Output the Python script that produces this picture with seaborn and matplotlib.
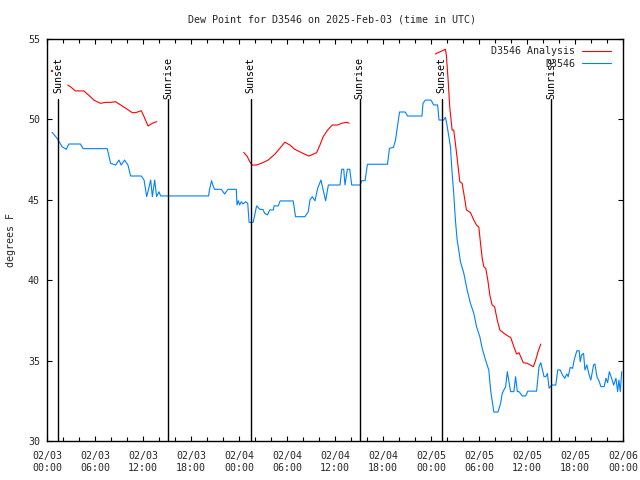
import numpy as np
import pandas as pd
import matplotlib
matplotlib.use("Agg")
import matplotlib.pyplot as plt
import matplotlib.dates as mdates
import seaborn as sns

# ---------------- data (hours after 2025-02-03 00:00 UTC, degrees F) -------------
obs_hours = [0.63, 1.25, 1.88, 2.42, 2.72, 4.18, 4.52, 7.53, 7.95, 8.57, 9.0, 9.28, 9.7, 10.12,
             10.45, 11.79, 12.13, 12.46, 12.67, 12.96, 13.17, 13.46, 13.7, 14.0, 14.2, 20.2,
             20.3, 20.57, 20.74, 20.95, 21.79, 22.2, 22.62, 23.66, 23.75, 23.92, 24.08, 24.29,
             24.5, 24.84, 25.09, 25.26, 25.76, 25.97, 26.2, 26.6, 27.0, 27.2, 27.56, 27.85,
             28.3, 28.38, 28.9, 29.14, 30.77, 31.07, 32.24, 32.66, 32.87, 33.16, 33.5, 33.83,
             34.24, 34.53, 34.83, 35.17, 36.63, 36.84, 37.09, 37.25, 37.54, 37.84, 38.09,
             39.14, 39.35, 39.76, 40.05, 42.56, 42.81, 43.31, 43.57, 43.74, 44.07, 44.78,
             45.07, 46.87, 47.0, 47.3, 48.0, 48.33, 48.83, 49.0, 49.58, 49.8, 50.0, 50.43,
             50.64, 50.84, 51.05, 51.27, 51.47, 51.68, 52.1, 52.52, 52.93, 53.35, 53.69,
             54.1, 54.4, 54.82, 55.23, 55.45, 55.66, 55.86, 56.37, 56.7, 56.9, 57.33, 57.54,
             57.75, 57.95, 58.36, 58.57, 58.79, 59.0, 59.42, 59.83, 60.1, 61.2, 61.5, 61.72,
             61.93, 62.13, 62.35, 62.55, 62.76, 63.1, 63.6, 63.84, 64.15, 64.44, 64.72,
             64.98, 65.15, 65.4, 65.7, 65.9, 66.23, 66.52, 66.65, 66.82, 67.07, 67.24, 67.48,
             67.77, 67.98, 68.32, 68.49, 68.74, 69.03, 69.24, 69.65, 69.87, 70.08, 70.29,
             70.58, 70.83, 71.12, 71.33, 71.49, 71.66, 71.84]
obs_values = [49.2, 48.83, 48.3, 48.14, 48.47, 48.47, 48.18, 48.18, 47.27, 47.16, 47.47, 47.16,
              47.47, 47.16, 46.48, 46.48, 46.23, 45.2, 45.6, 46.23, 45.2, 46.23, 45.2, 45.5,
              45.24, 45.24, 45.6, 46.19, 45.9, 45.65, 45.65, 45.36, 45.65, 45.65, 44.68, 44.94,
              44.68, 44.88, 44.74, 44.88, 44.78, 43.6, 43.6, 44.06, 44.62, 44.41, 44.4, 44.16,
              44.06, 44.37, 44.37, 44.62, 44.62, 44.93, 44.93, 43.95, 43.95, 44.26, 44.99,
              45.19, 44.94, 45.71, 46.23, 45.61, 44.94, 45.92, 45.92, 46.9, 46.9, 45.92, 46.9,
              46.9, 45.92, 45.92, 46.19, 46.19, 47.21, 47.21, 48.2, 48.26, 48.72, 49.34, 50.46,
              50.46, 50.21, 50.21, 51.0, 51.2, 51.2, 50.9, 50.9, 49.96, 49.96, 50.13, 49.65,
              48.3, 46.65, 45.4, 43.74, 42.5, 41.88, 41.15, 40.43, 39.39, 38.56, 37.94, 37.11,
              36.49, 35.76, 35.03, 34.4, 33.17, 32.44, 31.8, 31.8, 32.34, 32.96, 33.38, 34.31,
              33.69, 33.07, 33.07, 34.0, 33.07, 33.07, 32.8, 32.8, 33.1, 33.1, 34.62, 34.87,
              34.42, 34.0, 34.0, 34.2, 33.28, 33.48, 33.48, 34.42, 34.42, 34.1, 33.9, 34.17,
              34.0, 34.58, 34.52, 35.04, 35.61, 35.61, 34.93, 35.35, 35.45, 34.42, 34.73, 34.1,
              33.79, 34.73, 34.79, 34.0, 33.69, 33.38, 33.38, 33.9, 33.63, 34.31, 33.9, 33.48,
              33.9, 33.07, 33.79, 33.07, 34.31]

# analysis series, one list per unbroken piece
ana_hours_0 = [0.67]
ana_values_0 = [53.03]
ana_hours_1 = [2.59, 3.01, 3.55, 4.6, 5.43, 5.85, 6.69, 7.31, 8.0, 8.57, 9.2, 10.03, 10.66,
               11.08, 11.79, 12.13, 12.63, 13.17, 13.71]
ana_values_1 = [52.14, 52.0, 51.77, 51.77, 51.41, 51.2, 51.0, 51.06, 51.06, 51.1, 50.9, 50.63,
                50.42, 50.42, 50.54, 50.17, 49.59, 49.76, 49.86]
ana_hours_2 = [24.59, 25.05, 25.34, 25.63, 26.17, 26.8, 27.64, 28.47, 29.1, 29.73, 30.36,
               30.98, 31.82, 32.74, 33.7, 34.12, 34.53, 35.08, 35.66, 36.33, 36.84, 37.47, 37.76]
ana_values_2 = [47.95, 47.68, 47.37, 47.16, 47.16, 47.27, 47.47, 47.83, 48.2, 48.58, 48.41,
                48.14, 47.93, 47.72, 47.93, 48.41, 48.93, 49.34, 49.65, 49.65, 49.76, 49.82, 49.76]
ana_hours_3 = [48.55, 49.8, 49.92, 50.14, 50.34, 50.64, 50.84, 51.05, 51.34, 51.6, 51.89, 52.1,
               52.43, 52.94, 53.35, 53.69, 53.98, 54.19, 54.4, 54.6, 54.85, 55.1, 55.35, 55.64,
               55.95, 56.28, 56.61, 57.11, 57.74, 57.95, 58.36, 58.7, 59.0, 59.54, 60.04, 60.8,
               61.09, 61.38, 61.72]
ana_values_3 = [54.07, 54.36, 54.0, 52.45, 50.79, 49.34, 49.34, 48.51, 47.27, 46.13, 46.02, 45.4,
                44.37, 44.2, 43.74, 43.43, 43.3, 42.29, 41.36, 40.84, 40.73, 40.01, 39.08, 38.46,
                38.35, 37.52, 36.9, 36.7, 36.49, 36.45, 35.86, 35.41, 35.49, 34.87, 34.83, 34.62,
                35.04, 35.55, 36.03]

sun_labels = ["Sunset", "Sunrise", "Sunset", "Sunrise", "Sunset", "Sunrise"]
sun_hours = [1.42, 15.15, 25.45, 39.1, 49.35, 63.05]

title = "Dew Point for D3546 on 2025-Feb-03 (time in UTC)"
ylabel = "degrees F"
name_ana = "D3546 Analysis"
name_obs = "D3546"

# ---------------- build frames -------------
base = pd.Timestamp("2025-02-03 00:00")
obs = pd.DataFrame({"time": base + pd.to_timedelta(obs_hours, unit="h"),
                    "value": obs_values})
pieces = []
for i, (hh, vv) in enumerate([(ana_hours_0, ana_values_0), (ana_hours_1, ana_values_1),
                              (ana_hours_2, ana_values_2), (ana_hours_3, ana_values_3)]):
    pieces.append(pd.DataFrame({"time": base + pd.to_timedelta(hh, unit="h"),
                                "value": vv, "seg": i}))
ana = pd.concat(pieces, ignore_index=True)
counts = ana["seg"].map(ana["seg"].value_counts())
ana_lines = ana[counts > 1]
ana_dots = ana[counts == 1]

# ---------------- style -------------
sns.set_style("ticks")
plt.rcParams["font.family"] = ["DejaVu Sans Mono", "DejaVu Sans"]
FS = 7.2
RED = "#ff0000"
BLUE = "#0080ff"

fig = plt.figure(figsize=(6.4, 4.8), dpi=100)
ax = fig.add_axes([47 / 640, 39 / 480, 576 / 640, 402 / 480])

sns.lineplot(data=ana_lines, x="time", y="value", units="seg", estimator=None,
             sort=False, color=RED, lw=0.8, ax=ax, label=name_ana)
sns.scatterplot(data=ana_dots, x="time", y="value", color=RED, s=2, linewidth=0,
                marker="s", ax=ax, legend=False)
sns.lineplot(data=obs, x="time", y="value", estimator=None, sort=False,
             color=BLUE, lw=0.8, ax=ax, label=name_obs)

# sunrise / sunset markers
for lab, h in zip(sun_labels, sun_hours):
    t = base + pd.Timedelta(hours=h)
    ax.axvline(t, ymin=0, ymax=0.85, color="black", lw=1.0)
    ax.text(t, 0.955, lab, transform=ax.get_xaxis_transform(), rotation=90,
            ha="center", va="top", fontsize=FS, color="black")

ax.set_xlim(base, base + pd.Timedelta(hours=72))
ax.set_ylim(30, 55)
ax.set_yticks([30, 35, 40, 45, 50, 55])
ax.xaxis.set_major_locator(mdates.HourLocator(byhour=[0, 6, 12, 18]))
ax.xaxis.set_minor_locator(mdates.HourLocator(byhour=list(range(0, 24, 2))))
ax.xaxis.set_major_formatter(mdates.DateFormatter("%m/%d\n%H:%M"))

ax.tick_params(axis="both", which="both", direction="in", top=True, right=True,
               labelsize=FS, color="black", width=0.8)
ax.tick_params(axis="both", which="major", length=3.5)
ax.tick_params(axis="x", which="minor", length=3.0)
ax.tick_params(axis="y", which="major", pad=5)
ax.tick_params(axis="x", which="major", pad=7)
for lbl in ax.get_xticklabels():
    lbl.set_linespacing(1.25)

for sp in ax.spines.values():
    sp.set_visible(True)
    sp.set_color("black")
    sp.set_linewidth(1.0)

ax.set_xlabel("")
ax.set_ylabel(ylabel, fontsize=FS)
ax.yaxis.set_label_coords(-0.053, 0.5)
fig.text(332 / 640, 1 - 19 / 480, title, ha="center", va="center", fontsize=FS)

# one legend entry per series
handles, labels = ax.get_legend_handles_labels()
uniq = {}
for hnd, lab in zip(handles, labels):
    uniq.setdefault(lab, hnd)
leg = ax.legend([uniq[name_ana], uniq[name_obs]], [name_ana, name_obs],
                loc="upper right", bbox_to_anchor=(0.979, 0.982), frameon=False,
                markerfirst=False, fontsize=FS, handlelength=2.9, handletextpad=0.7,
                labelspacing=0.25, borderpad=0, borderaxespad=0)

fig.savefig("out.png", dpi=100)
